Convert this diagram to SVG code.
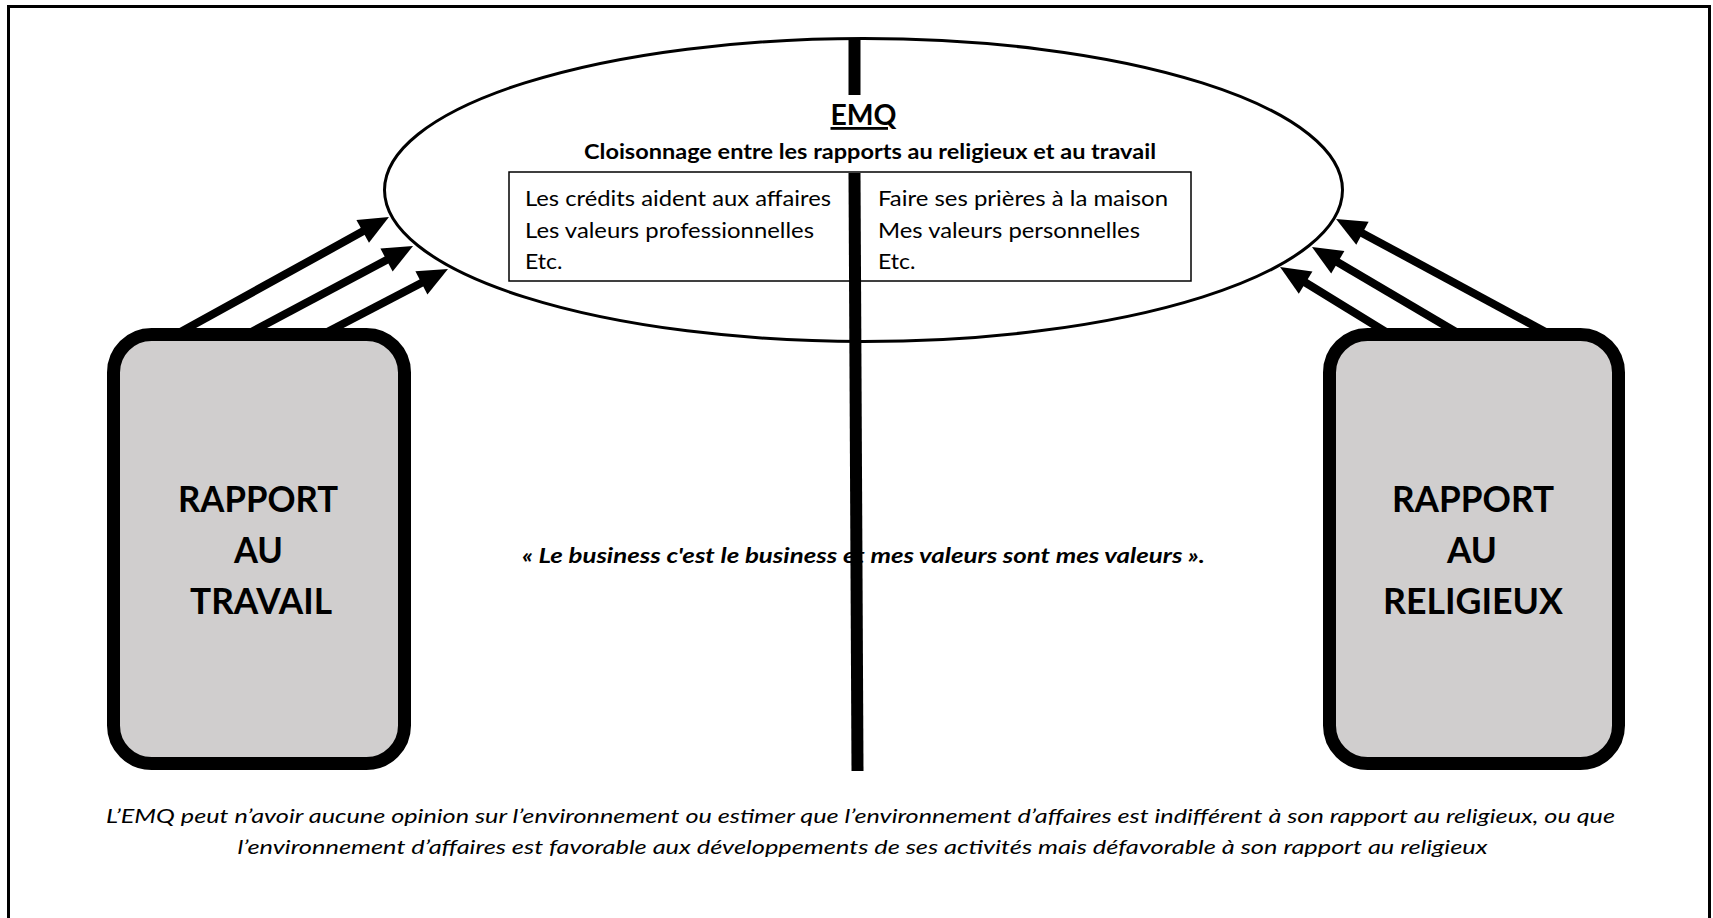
<svg xmlns="http://www.w3.org/2000/svg" width="1713" height="918" viewBox="0 0 1713 918">
<style>
.f{font-family:Lato,"Open Sans","Liberation Sans",sans-serif;fill:#000}
.b{font-weight:700}
.big{font-size:36px;font-weight:700}
.box{font-size:20.5px}
.arrow{stroke:#000;stroke-width:8;fill:none;marker-end:url(#ah)}
.node{fill:#d0cece;stroke:#000;stroke-width:13}
.div{stroke:#000;stroke-width:12;fill:none}
</style>
<defs>
<marker id="ah" markerUnits="userSpaceOnUse" markerWidth="30" markerHeight="26" refX="8" refY="13" orient="auto" overflow="visible">
<path d="M0,0 L30,13 L0,26 z" fill="#000"/>
</marker>
</defs>
<rect x="8.5" y="6.5" width="1701" height="930" fill="#fff" stroke="#000" stroke-width="3"/>

<g id="emq">
<ellipse cx="863.5" cy="190" rx="479" ry="151.5" fill="#fff" stroke="#000" stroke-width="3"/>
<text class="f b" x="863.5" y="125" font-size="28" text-anchor="middle" text-decoration="underline" textLength="66" lengthAdjust="spacingAndGlyphs">EMQ</text>
<text class="f b" x="870" y="159" font-size="21" text-anchor="middle" textLength="572" lengthAdjust="spacingAndGlyphs">Cloisonnage entre les rapports au religieux et au travail</text>
</g>

<g id="content-box">
<rect x="509" y="172" width="682" height="109" fill="#fff" stroke="#000" stroke-width="1.5"/>
<text class="f box" x="525" y="206" textLength="306" lengthAdjust="spacingAndGlyphs">Les crédits aident aux affaires</text>
<text class="f box" x="525" y="237.5" textLength="289" lengthAdjust="spacingAndGlyphs">Les valeurs professionnelles</text>
<text class="f box" x="525" y="269" textLength="37.5" lengthAdjust="spacingAndGlyphs">Etc.</text>
<text class="f box" x="878" y="206" textLength="290" lengthAdjust="spacingAndGlyphs">Faire ses prières à la maison</text>
<text class="f box" x="878" y="237.5" textLength="262" lengthAdjust="spacingAndGlyphs">Mes valeurs personnelles</text>
<text class="f box" x="878" y="269" textLength="37.5" lengthAdjust="spacingAndGlyphs">Etc.</text>
</g>

<g id="connectors">
<line class="arrow" x1="166" y1="340" x2="369.7" y2="227.6"/>
<line class="arrow" x1="236.3" y1="340" x2="393.6" y2="256.3"/>
<line class="arrow" x1="311.9" y1="340" x2="428.5" y2="279.2"/>
<line class="arrow" x1="1560.4" y1="340" x2="1355.4" y2="229.4"/>
<line class="arrow" x1="1469.6" y1="340" x2="1330.9" y2="258.2"/>
<line class="arrow" x1="1398.9" y1="340" x2="1298.8" y2="278.5"/>
</g>

<g id="rapport-travail">
<rect class="node" x="113.5" y="334.5" width="291" height="429" rx="38" ry="38"/>
<text class="f big" x="258" y="512" text-anchor="middle" textLength="160" lengthAdjust="spacingAndGlyphs">RAPPORT</text>
<text class="f big" x="258.5" y="563" text-anchor="middle" textLength="49" lengthAdjust="spacingAndGlyphs">AU</text>
<text class="f big" x="261" y="614" text-anchor="middle" textLength="142" lengthAdjust="spacingAndGlyphs">TRAVAIL</text>
</g>

<g id="rapport-religieux">
<rect class="node" x="1329.5" y="334.5" width="289" height="429" rx="38" ry="38"/>
<text class="f big" x="1473" y="512" text-anchor="middle" textLength="162" lengthAdjust="spacingAndGlyphs">RAPPORT</text>
<text class="f big" x="1472" y="563" text-anchor="middle" textLength="50" lengthAdjust="spacingAndGlyphs">AU</text>
<text class="f big" x="1473" y="614" text-anchor="middle" textLength="180" lengthAdjust="spacingAndGlyphs">RELIGIEUX</text>
</g>

<g id="quote">
<text class="f b" x="863.5" y="563" font-size="21" font-style="italic" text-anchor="middle" textLength="683" lengthAdjust="spacingAndGlyphs">« Le business c'est le business et mes valeurs sont mes valeurs ».</text>
</g>

<g id="divider">
<line class="div" x1="854.5" y1="38" x2="854.5" y2="95"/>
<line class="div" x1="854.5" y1="173" x2="857.5" y2="771"/>
</g>

<g id="note">
<text class="f" x="860.5" y="823" font-size="18.5" font-style="italic" fill="#1a1a1a" text-anchor="middle" textLength="1509" lengthAdjust="spacingAndGlyphs">L’EMQ peut n’avoir aucune opinion sur l’environnement ou estimer que l’environnement d’affaires est indifférent à son rapport au religieux, ou que</text>
<text class="f" x="862.5" y="854" font-size="18.5" font-style="italic" fill="#1a1a1a" text-anchor="middle" textLength="1250" lengthAdjust="spacingAndGlyphs">l’environnement d’affaires est favorable aux développements de ses activités mais défavorable à son rapport au religieux</text>
</g>
</svg>
